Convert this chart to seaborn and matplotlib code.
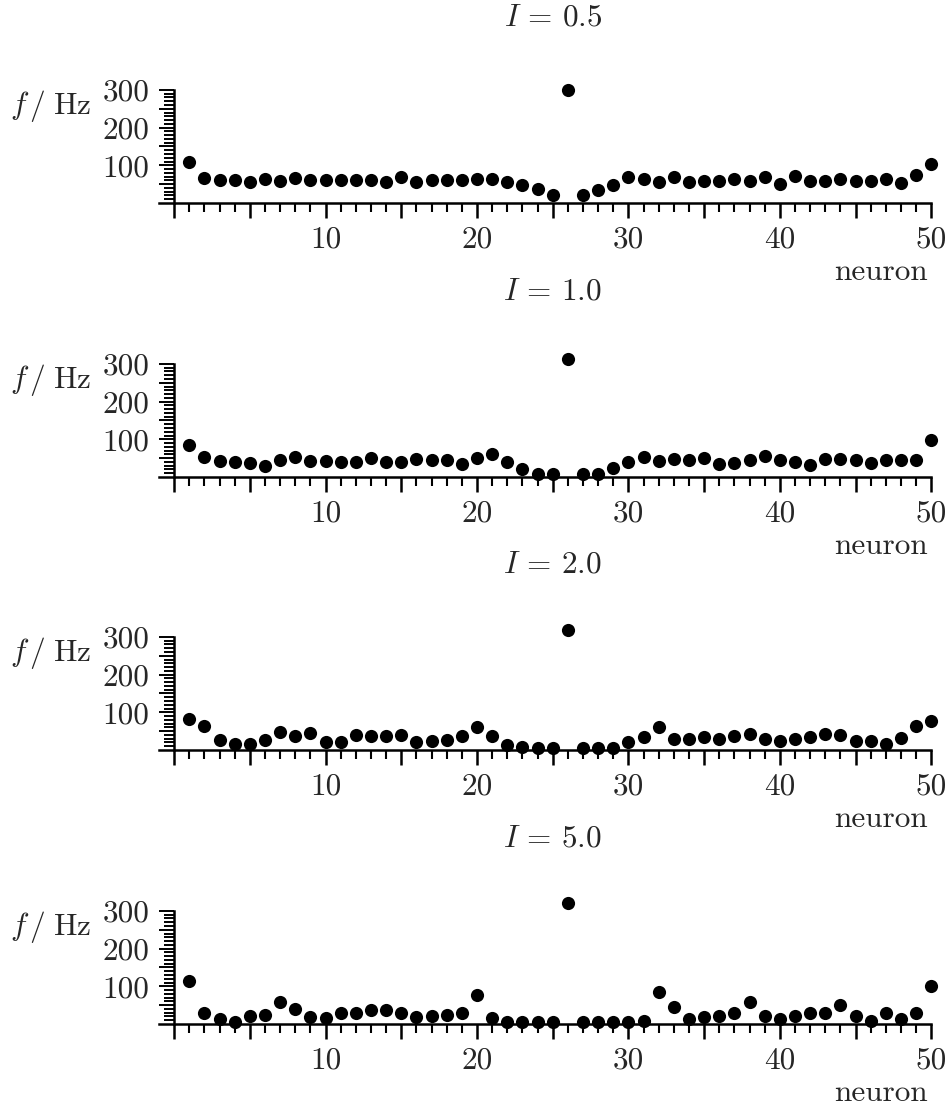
import numpy as np
import seaborn as sns
import matplotlib.pyplot as plt
from matplotlib.ticker import FixedLocator, FuncFormatter

sns.set_theme(style='ticks')
plt.rcParams['font.family'] = ['cmr10', 'DejaVu Serif']
plt.rcParams['mathtext.fontset'] = 'cm'
plt.rcParams['axes.formatter.use_mathtext'] = True

neuron = list(range(1, 51))
currents = ['0.5', '1.0', '2.0', '5.0']

# firing rate f (Hz) per neuron, one list per input current I
rate_05 = [108, 65, 61, 61, 56, 64, 59, 67, 61, 61, 61, 61, 61, 56, 68, 56, 61, 61, 61, 64,
           64, 56, 48, 38, 22, 299, 22, 35, 48, 68, 63, 56, 70, 56, 59, 59, 64, 59, 70, 50,
           71, 58, 58, 64, 59, 59, 63, 52, 75, 103]
rate_10 = [85, 53, 42, 40, 38, 30, 44, 52, 43, 43, 39, 41, 50, 39, 39, 48, 44, 44, 35, 50,
           61, 40, 21, 9, 7, 313, 7, 7, 24, 40, 52, 42, 48, 44, 50, 34, 36, 45, 55, 44,
           39, 33, 48, 48, 44, 37, 44, 44, 44, 99]
rate_20 = [83, 64, 27, 15, 16, 27, 48, 36, 44, 22, 22, 40, 36, 36, 41, 22, 24, 27, 36, 60,
           36, 14, 7, 4, 4, 319, 4, 4, 4, 22, 34, 60, 30, 30, 35, 29, 36, 42, 30, 24,
           29, 34, 42, 41, 25, 24, 16, 31, 63, 76]
rate_50 = [115, 30, 12, 6, 20, 23, 59, 39, 18, 15, 28, 28, 37, 37, 30, 18, 20, 23, 28, 78,
           17, 4, 4, 4, 4, 321, 4, 4, 4, 4, 9, 84, 44, 12, 18, 22, 28, 59, 20, 12,
           22, 29, 29, 51, 20, 9, 28, 13, 30, 100]
rates = [rate_05, rate_10, rate_20, rate_50]

W, H = 949, 1111
fig = plt.figure(figsize=(W / 100, H / 100), dpi=100)

zero_px = [203, 477, 750, 1024]   # pixel row of f = 0 in each panel
k = 0.377                         # pixels per Hz
ylo, yhi = -10, 330
x_left, x_right = 159, 946.4      # pixels of x = -1 and x = 51
fs = 22.5

for cur, vals, y0 in zip(currents, rates, zero_px):
    bottom = 1 - (y0 - ylo * k) / H
    height = (yhi - ylo) * k / H
    ax = fig.add_axes([x_left / W, bottom, (x_right - x_left) / W, height])
    sns.scatterplot(x=neuron, y=vals, ax=ax, color='black', s=90,
                    linewidth=0, clip_on=False, zorder=3)
    ax.set_xlim(-1, 51)
    ax.set_ylim(ylo, yhi)
    for s in ['top', 'right']:
        ax.spines[s].set_visible(False)
    ax.spines['left'].set_position(('data', 0))
    ax.spines['bottom'].set_position(('data', 0))
    ax.spines['left'].set_bounds(0, 300)
    ax.spines['bottom'].set_bounds(-1, 50)
    for s in ['left', 'bottom']:
        ax.spines[s].set_linewidth(1.8)
        ax.spines[s].set_color('black')

    ax.xaxis.set_major_locator(FixedLocator(np.arange(0, 51, 5)))
    ax.xaxis.set_minor_locator(FixedLocator(np.arange(1, 50)))
    ax.xaxis.set_major_formatter(FuncFormatter(
        lambda v, p: '%d' % v if v > 0 and v % 10 == 0 else ''))
    ax.yaxis.set_major_locator(FixedLocator(np.arange(50, 301, 50)))
    ax.yaxis.set_minor_locator(FixedLocator(np.arange(10, 301, 10)))
    ax.yaxis.set_major_formatter(FuncFormatter(
        lambda v, p: '%d' % v if v % 100 == 0 else ''))

    ax.tick_params(axis='x', which='major', direction='out', length=11, width=1.8,
                   labelsize=fs, pad=5, color='black')
    ax.tick_params(axis='x', which='minor', direction='out', length=6.5, width=1.5,
                   color='black')
    ax.tick_params(axis='y', which='major', direction='out', length=11, width=1.4,
                   labelsize=fs, pad=7, color='black')
    ax.tick_params(axis='y', which='minor', direction='out', length=7, width=1.4,
                   color='black')

    ax.set_xlabel('neuron', fontsize=fs, ha='right', va='center')
    ax.xaxis.set_label_coords(0.977, -0.509)
    ax.set_ylabel(r'$f\,/\;\mathrm{Hz}$', fontsize=fs, rotation=0,
                  ha='left', va='center')
    ax.yaxis.set_label_coords(-0.189, 0.79)
    ax.text(0.5, 1.473, r'$I\, =\, %s$' % cur, transform=ax.transAxes,
            ha='center', va='center', fontsize=fs)

fig.savefig('out.png', dpi=100)
